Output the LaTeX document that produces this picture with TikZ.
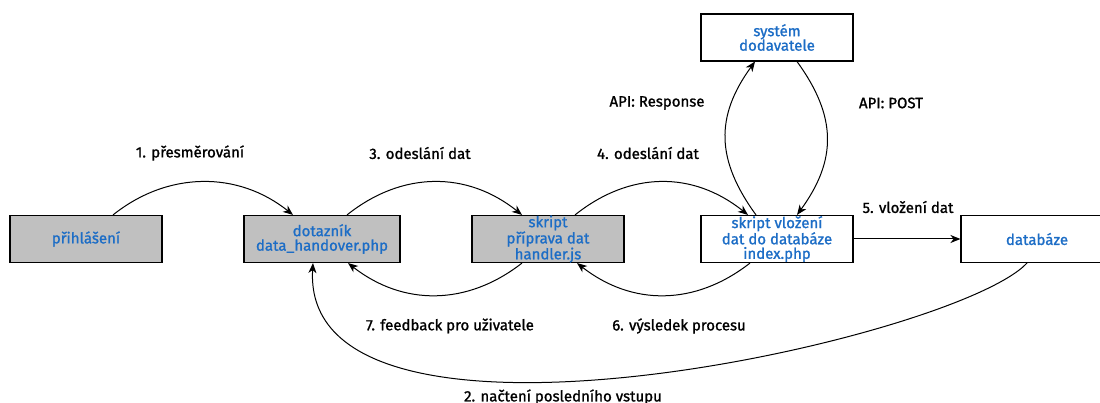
\documentclass[tikz,border=0pt]{standalone}
\usepackage{fontspec}
\setmainfont{Fira Sans}[FakeBold=1.2]
\usetikzlibrary{arrows.meta}
\definecolor{txtblue}{HTML}{1C6DC6}
\definecolor{boxgray}{HTML}{C0C0C0}
\tikzset{
  box/.style={draw=black, line width=1.1pt, fill=white, minimum width=152pt, minimum height=47pt,
    inner sep=0pt, align=center, text=txtblue, font=\fontsize{15}{14.5}\selectfont},
  graybox/.style={box, fill=boxgray},
  arr/.style={line width=1pt, -{Stealth[length=10pt,width=8pt,inset=3pt]}},
  lbl/.style={font=\fontsize{15}{14.5}\selectfont, text=black, inner sep=0pt}
}
\begin{document}
\begin{tikzpicture}[x=1pt,y=-1pt]
\clip (0,0) rectangle (1100,403);
\fill[white] (0,0) rectangle (1100,403);

% process boxes
\node[graybox] (login) at (86,239) {přihlášení};
\node[graybox, minimum width=156pt] (form) at (322,239) {dotazník\\data\_handover.php};
\node[graybox] (prep) at (548,239) {skript\\příprava dat\\handler.js};
\node[box] (insert) at (777,239) {skript vložení\\dat do databáze\\index.php};
\node[box] (db) at (1037,239) {databáze};
\node[box] (sys) at (777,37.5) {systém\\dodavatele};

% forward flow along the top
\draw[arr] ([xshift=27pt]login.north) .. controls +(55,-44) and +(-55,-44) .. ([xshift=-29pt]form.north);
\draw[arr] ([xshift=25pt]form.north) .. controls +(55,-44) and +(-55,-44) .. ([xshift=-26pt]prep.north);
\draw[arr] ([xshift=27pt]prep.north) .. controls +(55,-44) and +(-55,-44) .. ([xshift=-29pt]insert.north);

% supplier API exchange
\draw[arr] ([xshift=-21pt]insert.north) .. controls +(-40,-55) and +(-40,55) .. ([xshift=-22pt]sys.south);
\draw[arr] ([xshift=20pt]sys.south) .. controls +(40,55) and +(40,-55) .. ([xshift=20pt]insert.north);

% database insert
\draw[arr] (insert.east) -- (db.west);

% return flow along the bottom
\draw[arr] ([xshift=-27pt]insert.south) .. controls +(-55,43) and +(55,43) .. ([xshift=29pt]prep.south);
\draw[arr] ([xshift=-26pt]prep.south) .. controls +(-55,43) and +(55,43) .. ([xshift=26pt]form.south);
\draw[arr] ([xshift=-10pt]db.south) .. controls +(-72,77) and +(-13,222) .. ([xshift=-9pt]form.south);

% labels
\node[lbl] (l1) at (190,153) {1. přesměrování};
\node[lbl] (l3) at (420,153) {3. odeslání dat};
\node[lbl] (l4) at (648,153) {4. odeslání dat};
\node[lbl] (lr) at (657,103) {API: Response};
\node[lbl] (lp) at (891,103) {API: POST};
\node[lbl] (l5) at (908,207) {5. vložení dat};
\node[lbl] (l7) at (450,326) {7. feedback pro uživatele};
\node[lbl] (l6) at (679,326) {6. výsledek procesu};
\node[lbl] (l2) at (563,397) {2. načtení posledního vstupu};
\end{tikzpicture}
\end{document}
